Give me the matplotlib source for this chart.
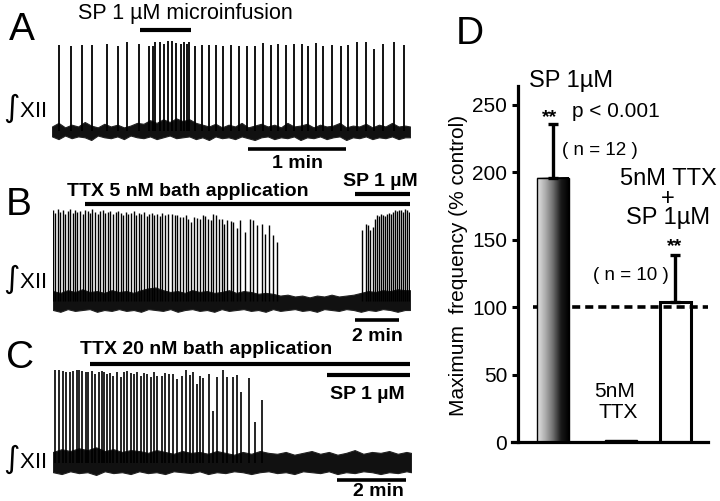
import numpy as np
import matplotlib
matplotlib.use('Agg')
import matplotlib.pyplot as plt
import matplotlib.transforms as mtransforms
from matplotlib.colors import LinearSegmentedColormap

plt.rcParams['font.family'] = ['Liberation Sans', 'DejaVu Sans']
plt.rcParams['lines.scale_dashes'] = False

W, H, DPI = 720, 501, 100

# ---------------- A: SP 1 uM microinfusion (time s, amplitude a.u.)
a_duration = 219
a_burst_t = [4.3, 11.6, 18.5, 24.5, 33.5, 40.6, 45.9, 53.2, 59.2, 61.6,
             63.2, 66.1, 68.7, 70.8, 73.6, 76.1, 78.8, 81.0, 82.4, 84.0,
             87.5, 91.8, 96.3, 100.4, 104.8, 109.4, 114.4, 119.2, 124.2, 128.9,
             133.8, 138.5, 143.2, 148.3, 152.8, 156.9, 161.6, 165.7, 171.2, 176.7,
             181.3, 186.8, 192.2, 197.2, 202.4, 209.3, 215.4]
a_burst_amp = [0.96, 0.94, 0.96, 0.96, 0.97, 0.94, 0.99, 0.97, 0.95, 0.94,
               0.99, 0.99, 0.97, 1.00, 1.00, 0.98, 0.97, 0.99, 0.97, 0.99,
               0.95, 0.96, 0.96, 0.96, 0.95, 0.96, 0.95, 0.94, 0.94, 0.98,
               0.96, 0.97, 0.96, 0.97, 0.97, 0.94, 0.98, 0.94, 0.96, 0.95,
               0.96, 0.99, 0.99, 0.91, 0.97, 0.99, 0.96]
a_noise_t = [0, 4, 8, 12, 16, 20, 24, 28, 32, 36, 40, 44, 48, 52, 56, 60, 64, 68, 72, 76,
             80, 84, 88, 92, 96, 100, 104, 108, 112, 116, 120, 124, 128, 132, 136, 140,
             144, 148, 152, 156, 160, 164, 168, 172, 176, 180, 184, 188, 192, 196, 200,
             204, 208, 212, 216, 219]
a_noise_hi = [0.05, 0.09, 0.04, 0.07, 0.05, 0.10, 0.06, 0.04, 0.08, 0.05,
              0.07, 0.04, 0.06, 0.09, 0.08, 0.12, 0.09, 0.13, 0.10, 0.14,
              0.11, 0.13, 0.09, 0.07, 0.05, 0.08, 0.04, 0.07, 0.05, 0.09,
              0.04, 0.06, 0.08, 0.05, 0.07, 0.04, 0.09, 0.05, 0.06, 0.08,
              0.04, 0.07, 0.05, 0.06, 0.09, 0.04, 0.06, 0.05, 0.08, 0.04,
              0.07, 0.05, 0.09, 0.05, 0.06, 0.05]
a_noise_lo = [-0.06, -0.09, -0.05, -0.08, -0.06, -0.07, -0.10, -0.05, -0.07, -0.08,
              -0.06, -0.09, -0.05, -0.07, -0.08, -0.06, -0.09, -0.07, -0.05, -0.08,
              -0.07, -0.06, -0.09, -0.07, -0.10, -0.06, -0.08, -0.07, -0.09, -0.06,
              -0.08, -0.10, -0.07, -0.06, -0.09, -0.07, -0.08, -0.06, -0.10, -0.07,
              -0.08, -0.06, -0.09, -0.07, -0.06, -0.10, -0.07, -0.08, -0.06, -0.09,
              -0.07, -0.08, -0.06, -0.09, -0.07, -0.07]
a_sp = (54, 85)
a_scale = (120, 180)

# ---------------- B: TTX 5 nM then SP 1 uM
b_duration = 974
b_burst_t = [1, 6, 14, 19, 27, 33, 41, 46, 55, 60,
             66, 74, 82, 87, 96, 101, 106, 115, 123, 128,
             136, 142, 150, 156, 164, 172, 177, 186, 191, 199,
             205, 213, 221, 226, 235, 240, 248, 256, 262, 270,
             276, 284, 292, 297, 306, 314,
             324, 333, 339, 346, 354, 362, 369, 376, 385, 392,
             401, 408, 415, 423, 430, 437, 446, 454, 461, 467,
             475, 485, 492, 501, 510, 524, 537, 546, 557, 569,
             578, 589, 599, 612,
             842, 854, 860, 866, 872, 878, 884, 890, 895, 901,
             906, 912, 917, 923, 928, 933, 939, 944, 950, 955,
             961, 966, 971]
b_burst_amp = [1.01, 0.98, 1.02, 0.99, 1.01, 0.97, 1.00, 1.02, 0.98, 1.01,
               0.99, 1.00, 0.97, 1.01, 1.00, 0.98, 1.02, 0.99, 0.97, 1.00,
               1.01, 0.98, 0.99, 1.00, 0.97, 0.99, 1.00, 0.98, 0.96, 0.99,
               0.97, 0.98, 1.00, 0.96, 0.98, 0.97, 0.99, 0.95, 0.97, 0.98,
               0.96, 0.97, 0.95, 0.98, 0.96, 0.97,
               0.97, 0.96, 0.96, 0.93, 0.93, 0.96, 0.91, 0.88, 0.93, 0.92,
               0.91, 0.96, 0.94, 0.91, 0.90, 0.97, 0.96, 0.91, 0.91, 0.86,
               0.90, 0.89, 0.88, 0.81, 0.90, 0.77, 0.91, 0.90, 0.84, 0.86,
               0.75, 0.84, 0.73, 0.66,
               0.79, 0.86, 0.84, 0.79, 0.82, 0.91, 0.96, 0.94, 0.97, 0.96,
               0.94, 0.97, 0.98, 0.97, 0.99, 1.01, 1.00, 1.01, 1.01, 0.99,
               1.02, 1.01, 0.99]
b_noise_t = [0, 20, 40, 60, 80, 100, 120, 140, 160, 180, 200, 220, 240, 260, 280, 300,
             320, 340, 360, 380, 400, 420, 440, 460, 480, 500, 520, 540, 560, 580, 600,
             620, 640, 660, 680, 700, 720, 740, 760, 780, 800, 820, 840, 860, 880, 900,
             920, 940, 960, 974]
b_noise_hi = [0.11, 0.09, 0.12, 0.10, 0.13, 0.10, 0.11, 0.09, 0.12, 0.10,
              0.11, 0.09, 0.12, 0.14, 0.15, 0.12, 0.10, 0.11, 0.09, 0.12,
              0.10, 0.11, 0.09, 0.10, 0.12, 0.09, 0.11, 0.10, 0.08, 0.09,
              0.08, 0.06, 0.07, 0.05, 0.06, 0.04, 0.06, 0.05, 0.07, 0.05,
              0.06, 0.07, 0.09, 0.11, 0.10, 0.12, 0.11, 0.13, 0.12, 0.12]
b_noise_lo = [-0.10, -0.12, -0.09, -0.11, -0.10, -0.09, -0.12, -0.10, -0.11, -0.09,
              -0.11, -0.10, -0.12, -0.09, -0.10, -0.11, -0.09, -0.12, -0.10, -0.09,
              -0.11, -0.10, -0.12, -0.09, -0.11, -0.10, -0.09, -0.11, -0.10, -0.12,
              -0.09, -0.11, -0.10, -0.09, -0.11, -0.10, -0.12, -0.09, -0.10, -0.11,
              -0.09, -0.10, -0.12, -0.10, -0.11, -0.09, -0.10, -0.12, -0.10, -0.10]
b_ttx = (87, 974)
b_sp = (824, 974)
b_scale = (824, 944)

# ---------------- C: TTX 20 nM then SP 1 uM
c_duration = 623
c_burst_t = [4, 10, 17, 23, 30, 35, 41, 46, 51, 57,
             61, 67, 73, 80, 85, 89, 94, 99, 105, 111,
             118, 124, 129, 135, 141, 147, 153, 159, 164, 170,
             176, 181,
             189, 195, 202, 209, 216, 224, 231, 238, 243, 250,
             256, 261, 272, 279, 286, 295, 302, 313, 321, 328,
             341, 351, 363]
c_burst_amp = [1.01, 1.01, 1.00, 0.99, 0.99, 1.00, 1.01, 1.01, 1.00, 0.99,
               0.99, 1.00, 0.97, 0.99, 1.00, 0.99, 0.97, 0.98, 0.95, 0.99,
               0.93, 0.99, 1.00, 0.98, 0.97, 0.99, 0.95, 0.98, 0.97, 0.93,
               0.99, 0.95,
               0.95, 0.98, 0.97, 0.97, 0.91, 0.95, 1.01, 0.96, 0.99, 0.86,
               0.95, 0.92, 0.97, 0.57, 0.93, 1.01, 0.93, 0.93, 0.96, 0.77,
               0.92, 0.45, 0.68]
c_noise_t = [0, 15, 30, 45, 60, 75, 90, 105, 120, 135, 150, 165, 180, 195, 210, 225, 240,
             255, 270, 285, 300, 315, 330, 345, 360, 375, 390, 405, 420, 435, 450, 465,
             480, 495, 510, 525, 540, 555, 570, 585, 600, 615, 623]
c_noise_hi = [0.12, 0.15, 0.13, 0.16, 0.14, 0.17, 0.13, 0.15, 0.12, 0.14,
              0.13, 0.11, 0.14, 0.12, 0.10, 0.13, 0.11, 0.12, 0.10, 0.13,
              0.11, 0.09, 0.12, 0.10, 0.13, 0.11, 0.10, 0.12, 0.09, 0.11,
              0.13, 0.10, 0.12, 0.09, 0.11, 0.14, 0.10, 0.12, 0.11, 0.13,
              0.10, 0.12, 0.11]
c_noise_lo = [-0.10, -0.12, -0.09, -0.11, -0.10, -0.13, -0.09, -0.11, -0.10, -0.12,
              -0.09, -0.11, -0.10, -0.12, -0.09, -0.10, -0.11, -0.09, -0.12, -0.10,
              -0.11, -0.09, -0.10, -0.12, -0.10, -0.09, -0.11, -0.10, -0.12, -0.09,
              -0.10, -0.11, -0.09, -0.12, -0.10, -0.11, -0.09, -0.10, -0.12, -0.10,
              -0.11, -0.09, -0.10]
c_ttx = (64, 621)
c_sp = (476, 621)
c_scale = (494, 614)

# ---------------- D: maximum frequency (% control)
d_groups = ['SP 1µM', '5nM TTX', '5nM TTX\n+\nSP 1µM']
d_mean = [196, 1.5, 104]
d_err = [40, 0, 35]
d_n = [12, None, 10]
d_pos = [0, 1, 1.8]

fig = plt.figure(figsize=(W / DPI, H / DPI), dpi=DPI)


def fy(ypx):
    return 1 - ypx / H


def px_axes(x0, y0, x1, y1):
    return fig.add_axes([x0 / W, 1 - y1 / H, (x1 - x0) / W, (y1 - y0) / H])


def label(xpx, ypx, s, **kw):
    kw.setdefault('va', 'baseline')
    return fig.text(xpx / W, fy(ypx), s, **kw)


def trace(box, base_px, unit_px, duration, bt, ba, nt, nhi, nlo, lw):
    x0, y0, x1, y1 = box
    ax = px_axes(x0, y0, x1, y1)
    ax.set_xlim(0, duration)
    ax.set_ylim(-(y1 - base_px) / unit_px, (base_px - y0) / unit_px)
    ax.fill_between(nt, nlo, nhi, color='#111111', lw=0.8, edgecolor='#222222')
    ax.vlines(bt, 0, ba, color='black', lw=lw)
    ax.axis('off')
    return ax


def hbar(ax, span, ypx, lw):
    tr = mtransforms.blended_transform_factory(ax.transData, fig.transFigure)
    ax.plot(span, [fy(ypx), fy(ypx)], color='black', lw=lw, transform=tr,
            clip_on=False, solid_capstyle='butt')


def nerve_label(ypx):
    label(3, ypx, r'$\int$XII', fontsize=16)


# panel A
ax_a = trace((52, 38, 410, 142), 131, 90, a_duration, a_burst_t, a_burst_amp,
             a_noise_t, a_noise_hi, a_noise_lo, 1.3)
hbar(ax_a, a_sp, 30, 3)
hbar(ax_a, a_scale, 149, 2.6)
label(9, 40, 'A', fontsize=28)
label(78, 19, 'SP 1 µM microinfusion', fontsize=15.5)
label(298, 168, '1 min', fontsize=14, fontweight='bold', ha='center')
nerve_label(117)

# panel B
ax_b = trace((53, 200, 410, 315), 301, 90, b_duration, b_burst_t, b_burst_amp,
             b_noise_t, b_noise_hi, b_noise_lo, 1.0)
hbar(ax_b, b_ttx, 204, 3)
hbar(ax_b, b_sp, 194, 3)
hbar(ax_b, b_scale, 320, 2.6)
label(6, 215, 'B', fontsize=28)
label(67, 196, 'TTX 5 nM bath application', fontsize=14, fontweight='bold')
label(418, 186, 'SP 1 µM', fontsize=14, fontweight='bold', ha='right')
label(377, 341, '2 min', fontsize=14, fontweight='bold', ha='center')
nerve_label(288)

# panel C
ax_c = trace((53, 362, 411, 477), 463, 92, c_duration, c_burst_t, c_burst_amp,
             c_noise_t, c_noise_hi, c_noise_lo, 1.2)
hbar(ax_c, c_ttx, 364, 3)
hbar(ax_c, c_sp, 375, 3)
hbar(ax_c, c_scale, 480, 2.6)
label(6, 368, 'C', fontsize=28)
label(80, 354, 'TTX 20 nM bath application', fontsize=14, fontweight='bold')
label(405, 399, 'SP 1 µM', fontsize=14, fontweight='bold', ha='right')
label(378, 496, '2 min', fontsize=14, fontweight='bold', ha='center')
nerve_label(468)

# panel D
ax_d = px_axes(512, 86, 708, 442)
ax_d.set_xlim(-0.603, 2.279)
ax_d.set_ylim(0, 264)
bw = 0.46
grad_cmap = LinearSegmentedColormap.from_list(
    'grad', ['#e4e4e4', '#b0b0b0', '#707070', '#1a1a1a', '#000000'])
grad = np.linspace(0, 1, 256).reshape(1, -1)
ax_d.imshow(grad, extent=[d_pos[0] - bw / 2, d_pos[0] + bw / 2, 0, d_mean[0]],
            aspect='auto', cmap=grad_cmap, zorder=2)
ax_d.bar(d_pos[0], d_mean[0], bw, facecolor='none', edgecolor='black', lw=1.0, zorder=3)
ax_d.bar(d_pos[1], d_mean[1], bw, facecolor='black', edgecolor='black', lw=1.0, zorder=3)
ax_d.bar(d_pos[2], d_mean[2], bw, facecolor='white', edgecolor='black', lw=2.2, zorder=1)
ax_d.axhline(100, xmin=(533 - 512) / 196, xmax=1, color='black', lw=2.6,
             ls=(0, (5.8, 3.6)), zorder=1.5)
ax_d.errorbar([d_pos[0], d_pos[2]], [d_mean[0], d_mean[2]],
              yerr=[[0, 0], [d_err[0], d_err[2]]], fmt='none', ecolor='black',
              elinewidth=2.4, capsize=3.6, capthick=2.4, zorder=4)
for s in ['top', 'right']:
    ax_d.spines[s].set_visible(False)
ax_d.spines['left'].set_position(('data', -0.515))
ax_d.spines['left'].set_linewidth(2.3)
ax_d.spines['bottom'].set_linewidth(2.3)
ax_d.set_xticks([])
ax_d.set_yticks([0, 50, 100, 150, 200, 250])
ax_d.tick_params(axis='y', direction='out', length=4.3, width=2.2, labelsize=15, pad=3.5)

label(456, 44, 'D', fontsize=28)
label(458, 265, 'Maximum  frequency (% control)', fontsize=15, rotation=90,
      ha='center', va='center')
label(571, 87, d_groups[0], fontsize=17, ha='center')
label(550, 122, '**', fontsize=14, fontweight='bold', ha='center')
label(572, 117, 'p < 0.001', fontsize=15)
label(600, 155, '( n = %d )' % d_n[0], fontsize=13.5, ha='center')
label(668, 224, d_groups[2], fontsize=17, ha='center', multialignment='center',
      linespacing=0.84)
label(675, 251, '**', fontsize=14, fontweight='bold', ha='center')
label(631, 280, '( n = %d )' % d_n[2], fontsize=13.5, ha='center')
label(615, 397, '5nM', fontsize=15, ha='center')
label(618, 418, 'TTX', fontsize=15, ha='center')

fig.savefig('out.png', dpi=DPI)
